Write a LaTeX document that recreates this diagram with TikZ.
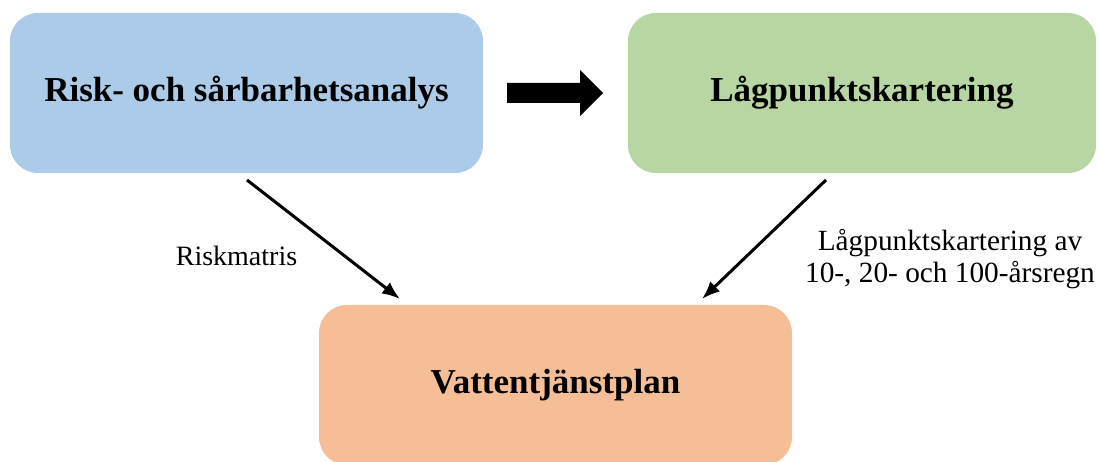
\documentclass[tikz,border=0pt]{standalone}
\usepackage{fontspec}
\setmainfont{Liberation Serif}
\definecolor{boxblue}{RGB}{172,203,233}
\definecolor{boxgreen}{RGB}{183,214,164}
\definecolor{boxorange}{RGB}{246,190,151}
\begin{document}
\begin{tikzpicture}[x=1pt,y=-1pt,
  box/.style={rounded corners=28pt, minimum width=473pt, minimum height=160pt, inner sep=0pt,
    font=\fontsize{35}{40}\selectfont\bfseries},
  conn/.style={line width=3pt, -{Latex[length=18pt,width=14pt]}},
  lbl/.style={font=\fontsize{28}{32}\selectfont, align=center}]
\usetikzlibrary{arrows.meta}
\useasboundingbox (0,0) rectangle (1101,462);
\node[box, fill=boxblue] (risk) at (246.5,93) {Risk- och sårbarhetsanalys};
\node[box, fill=boxgreen, minimum width=468pt] (lag) at (862,93) {Lågpunktskartering};
\node[box, fill=boxorange] (vat) at (555.5,385) {Vattentjänstplan};
\fill (507,83) -- (580,83) -- (580,70) -- (603,93) -- (580,116) -- (580,103) -- (507,103) -- cycle;
\coordinate (a1) at (247,180);
\coordinate (b1) at (400,299);
\coordinate (a2) at (826,180);
\coordinate (b2) at (702,299);
\draw[conn] (a1) -- (b1);
\draw[conn] (a2) -- (b2);
\node[lbl] (l1) at (236.5,256) {Riskmatris};
\node[lbl, font=\fontsize{29.3}{32}\selectfont] (l2) at (950,259) {Lågpunktskartering av\\10-, 20- och 100-årsregn};
\end{tikzpicture}
\end{document}
